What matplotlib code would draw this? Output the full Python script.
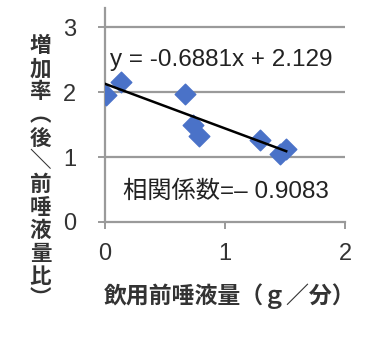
import matplotlib
matplotlib.use("Agg")
import matplotlib.pyplot as plt
import numpy as np

plt.rcParams['font.family'] = ['Liberation Sans', 'Noto Sans CJK JP', 'DejaVu Sans']

# 飲用前唾液量 (g/分) と 増加率
saliva = [0.01, 0.13, 0.67, 0.73, 0.78, 1.29, 1.46, 1.51]
ratio = [1.96, 2.15, 1.97, 1.50, 1.32, 1.26, 1.05, 1.13]

slope = -0.6881
intercept = 2.129
corr_text = "相関係数=– 0.9083"
eq_text = "y = -0.6881x + 2.129"

xticks = [0, 1, 2]
yticks = [0, 1, 2, 3]
ylabel_chars = ["増", "加", "率", "︵", "後", "＼", "前", "唾", "液", "量", "比", "︶"]
xlabel = "飲用前唾液量（ｇ／分）"

fig = plt.figure(figsize=(3.85, 3.45), dpi=100)
ax = fig.add_axes([0.273, 0.357, 0.623, 0.62])

for y in yticks[1:]:
    ax.axhline(y, color='#9a9a9a', lw=1.6, zorder=1)

ax.scatter(saliva, ratio, marker='D', s=110, color='#4a72c8', zorder=3)

xs = np.array([0, max(saliva)])
ax.plot(xs, slope * xs + intercept, color='black', lw=1.8, zorder=4)

ax.text(0.04, 2.49, eq_text, fontsize=17.5, va='center', ha='left', color='#222222')
ax.text(0.15, 0.46, corr_text, fontsize=17.5, va='center', ha='left', color='#222222')

ax.set_xlim(0, 2)
ax.set_ylim(0, 3.3)
ax.set_xticks(xticks)
ax.set_yticks(yticks)
for s in ['top', 'right']:
    ax.spines[s].set_visible(False)
for s in ['left', 'bottom']:
    ax.spines[s].set_color('#9a9a9a')
    ax.spines[s].set_linewidth(1.6)
ax.tick_params(colors='#9a9a9a', width=1.4, length=5, labelcolor='#333333',
               labelsize=17)
ax.tick_params(axis='y', pad=16)
ax.tick_params(axis='x', pad=10)

fig.text(0.105, 0.5, "\n".join(ylabel_chars), fontsize=15.5, fontweight='bold',
         ha='center', va='center', linespacing=1.12, color='#333333',
         family=['Noto Sans CJK JP', 'DejaVu Sans'])
fig.text(0.597, 0.142, xlabel, fontsize=16.5, fontweight='bold', ha='center',
         va='center', color='#333333', family=['Noto Sans CJK JP', 'DejaVu Sans'])

fig.savefig("out.png", dpi=100)
